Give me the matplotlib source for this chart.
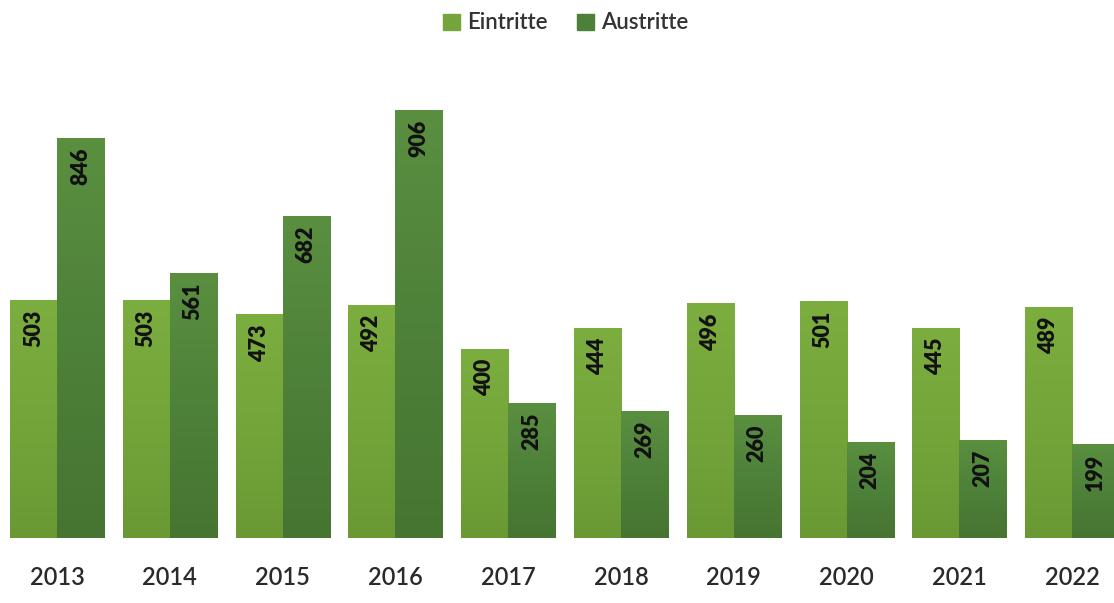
import matplotlib.pyplot as plt
from matplotlib.colors import LinearSegmentedColormap
from matplotlib.patches import Patch
import numpy as np

jahre = ["2013", "2014", "2015", "2016", "2017", "2018", "2019", "2020", "2021", "2022"]
eintritte = [503, 503, 473, 492, 400, 444, 496, 501, 445, 489]
austritte = [846, 561, 682, 906, 285, 269, 260, 204, 207, 199]

plt.rcParams['font.family'] = ['Lato', 'DejaVu Sans']

fig = plt.figure(figsize=(11.14, 6.03), dpi=100)
ax = fig.add_axes([0, (603 - 538) / 603, 1, 478 / 603])

# farbverlauf: oben etwas heller, unten dunkler
cm_ein = LinearSegmentedColormap.from_list("ein", ["#6a9934", "#74a53a", "#7cad3f"])
cm_aus = LinearSegmentedColormap.from_list("aus", ["#467532", "#4e8139", "#5a8f40"])

x = np.arange(len(jahre))
w = 0.417
grad = np.linspace(0, 1, 100).reshape(-1, 1)

bars_e = ax.bar(x - w / 2, eintritte, w, color="#74a53a", zorder=1)
bars_a = ax.bar(x + w / 2, austritte, w, color="#4d8038", zorder=1)

for bars, cm in [(bars_e, cm_ein), (bars_a, cm_aus)]:
    for b in bars:
        x0, h = b.get_x(), b.get_height()
        im = ax.imshow(grad, extent=[x0, x0 + b.get_width(), 0, h], origin="lower",
                       aspect="auto", cmap=cm, zorder=2)
        im.set_clip_path(b)

for bars, vals in [(bars_e, eintritte), (bars_a, austritte)]:
    for b, v in zip(bars, vals):
        ax.annotate(str(v), (b.get_x() + b.get_width() / 2, v), xytext=(0, -7),
                    textcoords="offset points", rotation=90, ha="center", va="top",
                    fontsize=15.5, fontweight="heavy", color="#111111", zorder=3)

ax.set_xlim(-0.505, 9.37)
ax.set_ylim(0, 1011)
ax.set_xticks(x)
ax.set_xticklabels(jahre, fontsize=17, color="#2a2a2a", fontweight="semibold")
ax.tick_params(axis="x", length=0, pad=20)
ax.set_yticks([])
for s in ax.spines.values():
    s.set_visible(False)

handles = [Patch(color="#74a53a"), Patch(color="#4d8038")]
fig.legend(handles, ["Eintritte", "Austritte"], loc="center", bbox_to_anchor=(0.508, 0.962),
           ncol=2, frameon=False, fontsize=16, handlelength=0.75, handleheight=0.75,
           handletextpad=0.35, columnspacing=1.3, labelcolor="#333333",
           prop={"size": 16, "weight": "semibold"})

fig.savefig("out.png", dpi=100)
